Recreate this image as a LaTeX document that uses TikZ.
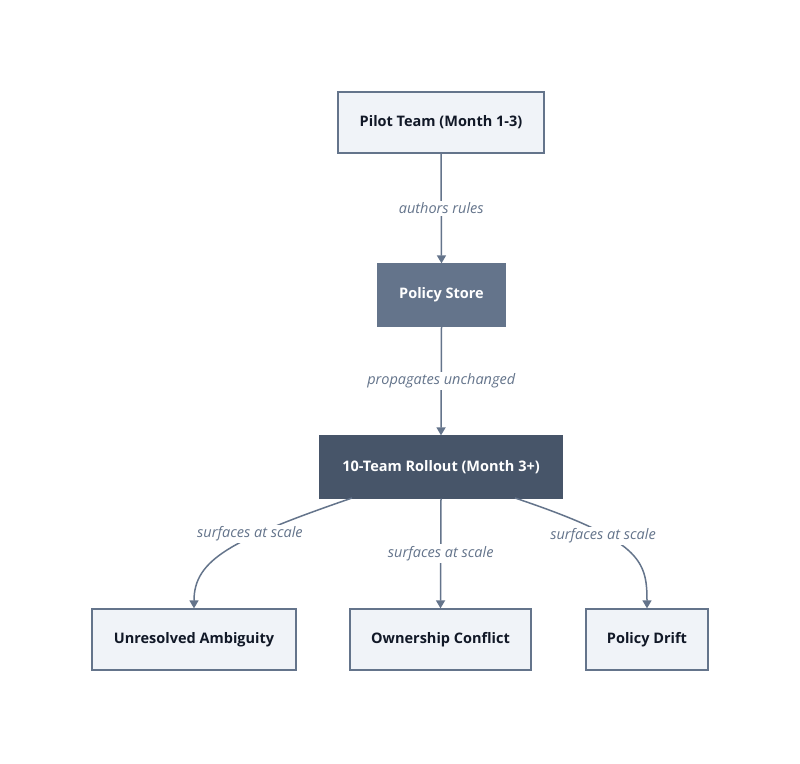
\documentclass[tikz,border=0pt]{standalone}
\usepackage{fontspec}
\setmainfont{Open Sans}
\usetikzlibrary{arrows.meta}
\definecolor{lightfill}{HTML}{F0F3F8}
\definecolor{edgecol}{HTML}{64748B}
\definecolor{midfill}{HTML}{64748B}
\definecolor{darkfill}{HTML}{475569}
\definecolor{txtdark}{HTML}{111827}
\definecolor{lblcol}{HTML}{64748B}
\tikzset{
  x=1pt, y=-1pt,
  lightbox/.style={draw=edgecol, line width=1.3pt, fill=lightfill, text=txtdark, minimum height=61pt, inner sep=0pt, font=\fontsize{14.5}{17}\selectfont\bfseries},
  midbox/.style={draw=midfill, line width=1.3pt, fill=midfill, text=white, minimum height=62pt, inner sep=0pt, font=\fontsize{14.5}{17}\selectfont\bfseries},
  darkbox/.style={draw=darkfill, line width=1.3pt, fill=darkfill, text=white, minimum height=62pt, inner sep=0pt, font=\fontsize{14.5}{17}\selectfont\bfseries},
  conn/.style={draw=edgecol, line width=1.5pt, -{Triangle[length=8pt,width=9pt]}},
  lbl/.style={fill=white, text=lblcol, inner sep=2pt, font=\fontsize{14.5}{17}\selectfont\itshape}
}
\begin{document}
\begin{tikzpicture}
\useasboundingbox (0,0) rectangle (800,763);
\fill[white] (0,0) rectangle (800,763);
\node[lightbox, minimum width=206pt] (pilot) at (441,122.5) {Pilot Team (Month 1-3)};
\node[midbox, minimum width=127pt] (store) at (441.5,295) {Policy Store};
\node[darkbox, minimum width=242pt] (roll) at (441,467) {10-Team Rollout (Month 3+)};
\node[lightbox, minimum width=204pt] (amb) at (194,639.5) {Unresolved Ambiguity};
\node[lightbox, minimum width=181pt] (own) at (440.5,639.5) {Ownership Conflict};
\node[lightbox, minimum width=122pt] (drift) at (647,639.5) {Policy Drift};

\coordinate (rl) at (352,498);
\coordinate (rr) at (515,498);

\draw[conn] (pilot.south) -- (store.north) node[lbl, pos=0.5] {authors rules};
\draw[conn] (store.south) -- (roll.north) node[lbl, pos=0.5] {propagates unchanged};
\draw[conn] (roll.south) -- (own.north) node[lbl, pos=0.5] {surfaces at scale};
\draw[conn] (rl) .. controls (230,540) and (194,560) .. (amb.north);
\node[lbl] (l1) at (250,534) {surfaces at scale};
\draw[conn] (rr) .. controls (640,540) and (647,560) .. (drift.north);
\node[lbl] (l3) at (603,536) {surfaces at scale};
\end{tikzpicture}
\end{document}
